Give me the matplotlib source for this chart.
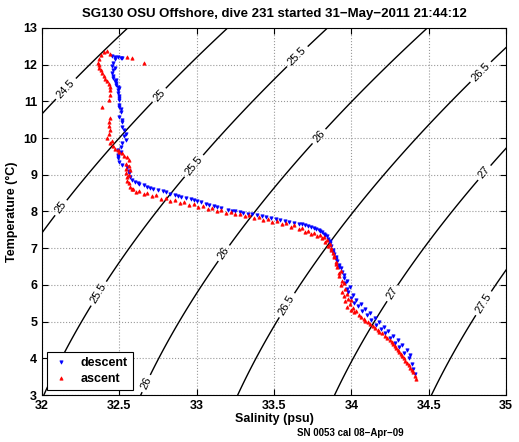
import numpy as np
import matplotlib
matplotlib.use("Agg")
import matplotlib.pyplot as plt

plt.rcParams['font.family'] = ['Liberation Sans', 'DejaVu Sans']

# descent profile (salinity psu, temperature C)
descent_s = [32.45, 32.47, 32.49, 32.51, 32.52, 32.47, 32.46, 32.45, 32.46, 32.45,
             32.46, 32.46, 32.47, 32.48, 32.48, 32.49, 32.50, 32.49, 32.49, 32.50,
             32.50, 32.50, 32.50, 32.51, 32.50, 32.52, 32.52, 32.52, 32.53, 32.54,
             32.54, 32.52, 32.51, 32.49, 32.49, 32.49, 32.50, 32.52, 32.55, 32.56,
             32.56, 32.57, 32.58, 32.60, 32.63, 32.68, 32.72, 32.78, 32.83, 32.88,
             32.93, 32.98, 33.03, 33.08, 33.13, 33.20, 33.25, 33.30, 33.36, 33.42,
             33.48, 33.54, 33.60, 33.66, 33.70, 33.74, 33.77, 33.80, 33.82, 33.84,
             33.85, 33.86, 33.87, 33.88, 33.89, 33.90, 33.91, 33.92, 33.93, 33.94,
             33.95, 33.96, 33.97, 33.98, 34.00, 34.02, 34.04, 34.07, 34.10, 34.13,
             34.16, 34.19, 34.22, 34.25, 34.28, 34.31, 34.34, 34.37, 34.39, 34.40,
             34.41,
             32.47, 32.48, 32.50, 32.51, 32.53, 32.51, 32.49,
             32.62, 32.66, 32.70, 32.75, 32.80, 32.86, 32.90, 32.96, 33.00, 33.06,
             33.11, 33.16, 33.23, 33.28, 33.33, 33.39, 33.45, 33.51, 33.57, 33.63,
             33.68, 33.72, 33.76, 33.79, 33.81, 33.83, 33.86, 33.88, 33.90, 33.92,
             33.95, 33.97, 33.99, 34.01, 34.03, 34.06, 34.09, 34.12, 34.15, 34.18,
             34.21, 34.24, 34.27, 34.30, 34.33, 34.36, 34.38]
descent_t = [12.22, 12.20, 12.21, 12.19, 12.18, 12.15, 12.05, 11.95, 11.85, 11.77,
             11.70, 11.63, 11.55, 11.50, 11.44, 11.40, 11.36, 11.30, 11.22, 11.10,
             11.03, 10.90, 10.84, 10.70, 10.57, 10.50, 10.43, 10.30, 10.21, 10.10,
             9.94, 9.86, 9.75, 9.67, 9.55, 9.45, 9.35, 9.26, 9.20, 9.10,
             9.04, 8.93, 8.85, 8.80, 8.75, 8.68, 8.62, 8.55, 8.48, 8.42,
             8.38, 8.30, 8.25, 8.17, 8.12, 8.05, 8.00, 7.96, 7.92, 7.87,
             7.82, 7.77, 7.72, 7.67, 7.63, 7.58, 7.52, 7.46, 7.40, 7.33,
             7.25, 7.15, 7.05, 6.95, 6.85, 6.75, 6.65, 6.55, 6.45, 6.35,
             6.20, 6.05, 5.90, 5.80, 5.65, 5.52, 5.42, 5.30, 5.18, 5.05,
             4.92, 4.80, 4.68, 4.55, 4.42, 4.30, 4.15, 4.00, 3.85, 3.70,
             3.58,
             11.90, 11.58, 11.15, 10.78, 10.05, 9.62, 9.50,
             8.77, 8.71, 8.65, 8.58, 8.52, 8.45, 8.40, 8.34, 8.28, 8.21,
             8.15, 8.09, 8.02, 7.98, 7.94, 7.90, 7.85, 7.80, 7.75, 7.70,
             7.66, 7.61, 7.55, 7.50, 7.43, 7.37, 7.20, 6.90, 6.70, 6.50,
             6.28, 6.12, 5.95, 5.72, 5.58, 5.47, 5.35, 5.24, 5.11, 4.98,
             4.86, 4.74, 4.62, 4.49, 4.36, 4.22, 4.08]

# ascent profile
ascent_s = [34.42, 34.41, 34.40, 34.38, 34.36, 34.34, 34.32, 34.30, 34.28, 34.26,
            34.23, 34.20, 34.17, 34.14, 34.11, 34.08, 34.05, 34.02, 34.00, 33.97,
            33.99, 33.96, 33.98, 33.95, 33.94, 33.96, 33.93, 33.94, 33.92, 33.93,
            33.91, 33.90, 33.89, 33.88, 33.87, 33.86, 33.84, 33.82, 33.80, 33.76,
            33.72, 33.68, 33.63, 33.58, 33.52, 33.46, 33.40, 33.34, 33.28, 33.22,
            33.16, 33.10, 33.04, 32.98, 32.92, 32.86, 32.80, 32.74, 32.68, 32.63,
            32.59, 32.57, 32.56, 32.55, 32.54, 32.54, 32.54, 32.56, 32.55, 32.52,
            32.49, 32.46, 32.44, 32.42, 32.43, 32.44, 32.43, 32.43, 32.44, 32.39,
            32.43, 32.44, 32.44, 32.44, 32.43, 32.42, 32.41, 32.40, 32.39, 32.38,
            32.37, 32.37, 32.36, 32.37, 32.38, 32.40, 32.42, 32.44, 32.55, 32.58,
            32.66,
            32.55, 32.56, 32.57, 32.56, 32.53, 32.50, 32.47, 32.45,
            32.58, 32.61, 32.66, 32.71, 32.77, 32.83, 32.89, 32.95, 33.01, 33.07,
            33.13, 33.19, 33.25, 33.31, 33.37, 33.43, 33.49, 33.55, 33.61, 33.66,
            33.70, 33.74, 33.78, 33.81, 33.83, 33.85, 33.87, 33.89, 33.90, 33.92,
            33.95, 33.97, 34.00, 34.01, 34.03, 34.06, 34.09, 34.12, 34.15, 34.18,
            34.22, 34.25, 34.27, 34.29, 34.31, 34.33, 34.35, 34.37, 34.39]
ascent_t = [3.45, 3.52, 3.62, 3.75, 3.88, 4.00, 4.12, 4.22, 4.33, 4.45,
            4.56, 4.68, 4.78, 4.88, 4.98, 5.08, 5.17, 5.26, 5.33, 5.40,
            5.48, 5.55, 5.62, 5.70, 5.80, 5.90, 6.00, 6.12, 6.25, 6.38,
            6.50, 6.62, 6.75, 6.88, 7.00, 7.12, 7.22, 7.30, 7.36, 7.42,
            7.48, 7.56, 7.62, 7.68, 7.74, 7.80, 7.85, 7.90, 7.94, 7.99,
            8.04, 8.09, 8.14, 8.20, 8.26, 8.32, 8.38, 8.44, 8.50, 8.56,
            8.62, 8.66, 8.77, 8.93, 9.05, 9.17, 9.30, 9.39, 9.48, 9.58,
            9.67, 9.78, 9.86, 10.00, 10.10, 10.21, 10.32, 10.43, 10.55, 10.84,
            11.03, 11.17, 11.31, 11.40, 11.48, 11.55, 11.62, 11.70, 11.77, 11.84,
            11.91, 11.98, 12.05, 12.15, 12.25, 12.33, 12.36, 12.30, 12.20, 12.19,
            12.05,
            8.84, 9.00, 9.12, 9.25, 9.52, 9.62, 9.70, 9.92,
            8.60, 8.53, 8.47, 8.41, 8.35, 8.29, 8.23, 8.17, 8.11, 8.06,
            8.01, 7.97, 7.92, 7.88, 7.83, 7.78, 7.71, 7.65, 7.59, 7.52,
            7.45, 7.39, 7.33, 7.27, 7.17, 7.06, 6.94, 6.80, 6.56, 6.32,
            6.05, 5.75, 5.60, 5.37, 5.30, 5.13, 5.03, 4.93, 4.83, 4.73,
            4.62, 4.50, 4.40, 4.28, 4.17, 4.06, 3.94, 3.82, 3.68]

sigma_levels = [24.5, 25.0, 25.5, 26.0, 26.5, 27.0, 27.5]
x_ticks = [32, 32.5, 33, 33.5, 34, 34.5, 35]
y_ticks = list(range(3, 14))


def dens0(s, t):
    # UNESCO 1983 density at surface pressure
    smow = (999.842594 + 6.793952e-2 * t - 9.095290e-3 * t**2
            + 1.001685e-4 * t**3 - 1.120083e-6 * t**4 + 6.536332e-9 * t**5)
    b = 8.24493e-1 - 4.0899e-3 * t + 7.6438e-5 * t**2 - 8.2467e-7 * t**3 + 5.3875e-9 * t**4
    c = -5.72466e-3 + 1.0227e-4 * t - 1.6546e-6 * t**2
    return smow + b * s + c * s**1.5 + 4.8314e-4 * s**2


fig = plt.figure(figsize=(5.19, 4.42), dpi=100)
ax = fig.add_axes([0.081, 0.106, 0.894, 0.831])

sg, tg = np.meshgrid(np.linspace(31.9, 35.1, 200), np.linspace(2.9, 13.1, 200))
sig = dens0(sg, tg) - 1000
cs = ax.contour(sg, tg, sig, levels=sigma_levels, colors='k', linewidths=1.0)
label_pos = [(32.149, 11.36), (32.743, 11.22), (32.103, 8.16), (32.976, 9.26),
             (33.648, 12.23), (32.278, 5.98), (33.79, 10.05), (33.17, 6.88),
             (32.666, 3.33), (34.844, 11.77), (33.59, 5.43), (34.27, 5.76),
             (34.864, 9.04), (34.851, 5.51)]
ax.clabel(cs, fmt=lambda v: f"{v:g}", fontsize=8, inline=True, inline_spacing=3,
          manual=label_pos)

ax.plot(descent_s, descent_t, 'v', color='b', markersize=2.4, markeredgewidth=0.5,
        label='descent', zorder=3)
ax.plot(ascent_s, ascent_t, '^', color='r', markersize=2.4, markeredgewidth=0.5,
        label='ascent', zorder=3)

ax.set_xlim(32, 35)
ax.set_ylim(3, 13)
ax.set_xticks(x_ticks)
ax.set_xticklabels([f"{v:g}" for v in x_ticks])
ax.set_yticks(y_ticks)
ax.grid(True, linestyle=':', color='#999999', linewidth=0.8)
ax.tick_params(direction='in', length=4, labelsize=9, top=True, right=True,
               labeltop=False, labelright=False)
for lab in ax.get_xticklabels() + ax.get_yticklabels():
    lab.set_fontweight('bold')

ax.set_title("SG130 OSU Offshore, dive 231 started 31\u2212May\u22122011 21:44:12",
             fontsize=9.5, fontweight='bold', pad=8)
ax.set_xlabel("Salinity (psu)", fontsize=9, fontweight='bold', labelpad=1)
ax.set_ylabel("Temperature (\u00b0C)", fontsize=9, fontweight='bold', labelpad=4)
fig.text(0.675, 0.008, "SN 0053 cal 08\u2212Apr\u221209", fontsize=7,
         fontweight='bold', ha='center', va='bottom')

leg = ax.legend(loc='lower left', prop={'weight': 'bold', 'size': 9},
                fancybox=False, edgecolor='k', framealpha=1, handlelength=1.5,
                markerscale=1.0, borderaxespad=0.4, labelspacing=0.3)
leg.get_frame().set_linewidth(0.8)

fig.savefig("out.png", dpi=100)
